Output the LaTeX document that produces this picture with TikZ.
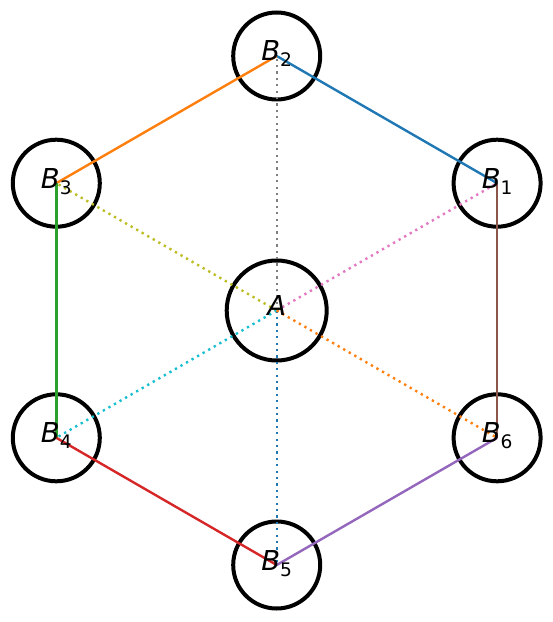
\documentclass[tikz,border=0pt]{standalone}
\usepackage{fontspec}
\setmainfont{DejaVu Sans}
\definecolor{tabblue}{HTML}{1F77B4}
\definecolor{taborange}{HTML}{FF7F0E}
\definecolor{tabgreen}{HTML}{2CA02C}
\definecolor{tabred}{HTML}{D62728}
\definecolor{tabpurple}{HTML}{9467BD}
\definecolor{tabbrown}{HTML}{8C564B}
\definecolor{tabpink}{HTML}{E377C2}
\definecolor{tabgray}{HTML}{7F7F7F}
\definecolor{tabolive}{HTML}{BCBD22}
\definecolor{tabcyan}{HTML}{17BECF}
\newcommand{\lbl}[1]{\fontsize{27.5}{30}\selectfont\itshape B\raisebox{-6bp}{\fontsize{18.7}{20}\selectfont\upshape #1}}
\begin{document}
\begin{tikzpicture}[x=1bp,y=-1bp,
  ring/.style={circle,draw=black,line width=4bp,minimum size=87bp,inner sep=0pt},
  bigring/.style={ring,minimum size=100bp},
  edge/.style={line width=2.4bp},
  spoke/.style={line width=2.4bp,dash pattern=on 2.3bp off 4.1bp},
  txt/.style={anchor=base,inner sep=0pt}]
\useasboundingbox (0,0) rectangle (553,622);
% circles
\node[bigring] (cA) at (276.7,310.5) {};
\node[ring] (cB1) at (497.1,183.2) {};
\node[ring] (cB2) at (276.7,56) {};
\node[ring] (cB3) at (56.3,183.2) {};
\node[ring] (cB4) at (56.3,437.8) {};
\node[ring] (cB5) at (276.7,565) {};
\node[ring] (cB6) at (497.1,437.8) {};
% outer edges
\draw[edge,tabblue] (cB2.center) -- (cB1.center);
\draw[edge,taborange] (cB2.center) -- (cB3.center);
\draw[edge,tabgreen] (cB3.center) -- (cB4.center);
\draw[edge,tabred] (cB4.center) -- (cB5.center);
\draw[edge,tabpurple] (cB5.center) -- (cB6.center);
\draw[edge,tabbrown] (cB6.center) -- (cB1.center);
% spokes
\draw[spoke,tabgray] (cA.center) -- (cB2.center);
\draw[spoke,tabpink] (cA.center) -- (cB1.center);
\draw[spoke,tabolive] (cA.center) -- (cB3.center);
\draw[spoke,tabcyan] (cA.center) -- (cB4.center);
\draw[spoke,tabblue] (cA.center) -- (cB5.center);
\draw[spoke,taborange] (cA.center) -- (cB6.center);
% labels
\node[txt] (tA) at (276.7,315.5) {\fontsize{27.5}{30}\selectfont\itshape A};
\node[txt] (tB1) at (497.1,188.2) {\lbl{1}};
\node[txt] (tB2) at (276.7,61) {\lbl{2}};
\node[txt] (tB3) at (56.3,188.2) {\lbl{3}};
\node[txt] (tB4) at (56.3,442.8) {\lbl{4}};
\node[txt] (tB5) at (276.7,570) {\lbl{5}};
\node[txt] (tB6) at (497.1,442.8) {\lbl{6}};
\end{tikzpicture}
\end{document}
